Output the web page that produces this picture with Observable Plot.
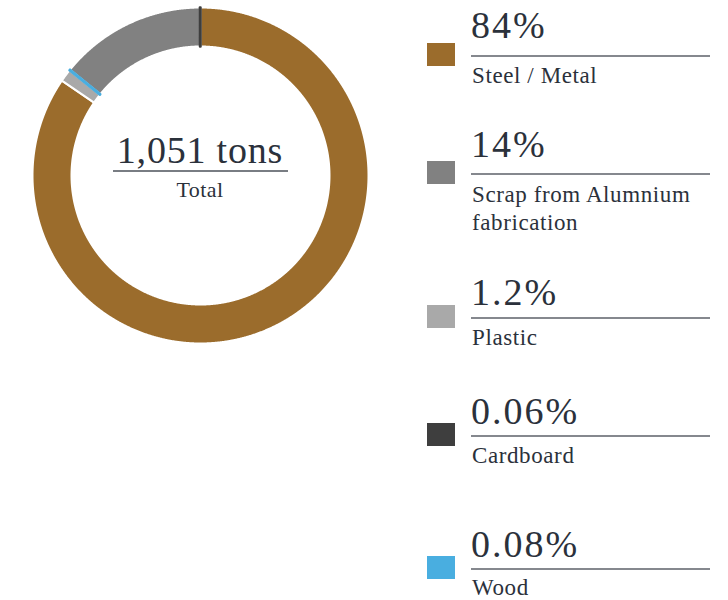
<!DOCTYPE html>
<html><head><meta charset="utf-8">
<script src="https://cdn.jsdelivr.net/npm/d3@7"></script>
<script src="https://cdn.jsdelivr.net/npm/@observablehq/plot@0.6"></script>
<style>
body{margin:0;background:#fff;}
#wrap{position:relative;width:728px;height:600px;}
#donut{position:absolute;left:0;top:0;}
#overlay{position:absolute;left:0;top:0;pointer-events:none;}
</style></head>
<body><div id="wrap"><div id="donut"></div><svg id="overlay" width="728" height="600"></svg></div>
<script>
// ---- data ----
const categories = ["Steel / Metal", "Scrap from Alumnium fabrication", "Plastic", "Cardboard", "Wood"];
const percents = [84, 14, 1.2, 0.06, 0.08];
const percentLabels = ["84%", "14%", "1.2%", "0.06%", "0.08%"];
const labelLines = [["Steel / Metal"], ["Scrap from Alumnium", "fabrication"], ["Plastic"], ["Cardboard"], ["Wood"]];
const colors = ["#9b6c2c", "#818181", "#a9a9a9", "#3e3e3e", "#49aee0"];
const ringOrder = ["Steel / Metal", "Plastic", "Wood", "Scrap from Alumnium fabrication", "Cardboard"];
const totalText = "1,051 tons";
const totalLabel = "Total";

// ---- layout ----
const FONT = '"Liberation Serif"';
const TEXT = "#2b313b";
const cx = 200, cy = 175, R = 168, r = 129;
const legendRule = [56, 174, 318, 436, 569];
const legendNum = [38, 157, 305, 424, 557];
const legendLabel = [83, 202, 345, 463, 595];

// ---- donut via Plot ----
const ringData = ringOrder.map(n => ({name: n, value: percents[categories.indexOf(n)]}));
const arcs = d3.pie().sort(null).value(d => d.value)(ringData);
const k = r / R;
const pts = [];
arcs.forEach(a => {
  const n = Math.max(2, Math.ceil((a.endAngle - a.startAngle) / 0.004));
  const ts = d3.range(n + 1).map(i => a.startAngle + (a.endAngle - a.startAngle) * i / n);
  ts.forEach(t => pts.push({name: a.data.name, value: a.data.value, x: Math.sin(t), y: Math.cos(t)}));
  ts.slice().reverse().forEach(t => pts.push({name: a.data.name, value: a.data.value, x: k * Math.sin(t), y: k * Math.cos(t)}));
});

const chart = Plot.plot({
  width: 400, height: 350, margin: 0,
  x: {domain: [-1, 1], range: [cx - R, cx + R], axis: null},
  y: {domain: [-1, 1], range: [cy + R, cy - R], axis: null},
  color: {domain: categories, range: colors},
  marks: [
    Plot.line(pts.filter(d => d.value >= 1), {x: "x", y: "y", z: "name", fill: "name", stroke: "white", strokeWidth: 2, curve: "linear-closed"}),
    Plot.line(pts.filter(d => d.value < 1), {x: "x", y: "y", z: "name", fill: "name", stroke: "name", strokeWidth: 2.5, curve: "linear-closed"})
  ]
});
document.getElementById("donut").appendChild(chart);

// ---- center label and legend ----
const svg = d3.select("#overlay");
function txt(parent, x, y, size, ls, s, anchor) {
  return parent.append("text").attr("x", x).attr("y", y).attr("text-anchor", anchor || "start")
    .style("font-family", FONT).style("font-size", size + "px").style("letter-spacing", ls + "px")
    .attr("fill", TEXT).text(s);
}
txt(svg, cx, 163, 38, 0.8, totalText, "middle");
svg.append("line").attr("x1", 113).attr("x2", 288).attr("y1", 171).attr("y2", 171)
  .attr("stroke", "#4d525a").attr("stroke-width", 1.6);
txt(svg, cx, 197, 22, 0.4, totalLabel, "middle");

categories.forEach((c, i) => {
  const g = svg.append("g");
  g.append("rect").attr("x", 427).attr("y", legendRule[i] - 13).attr("width", 28).attr("height", 23).attr("fill", colors[i]);
  txt(g, 471, legendNum[i], 38, 2, percentLabels[i]);
  g.append("line").attr("x1", 471).attr("x2", 710).attr("y1", legendRule[i]).attr("y2", legendRule[i])
    .attr("stroke", "#5c6168").attr("stroke-width", 1.6);
  labelLines[i].forEach((l, j) => txt(g, 472, legendLabel[i] + 28 * j, 23, 0.6, l));
});
</script></body></html>
